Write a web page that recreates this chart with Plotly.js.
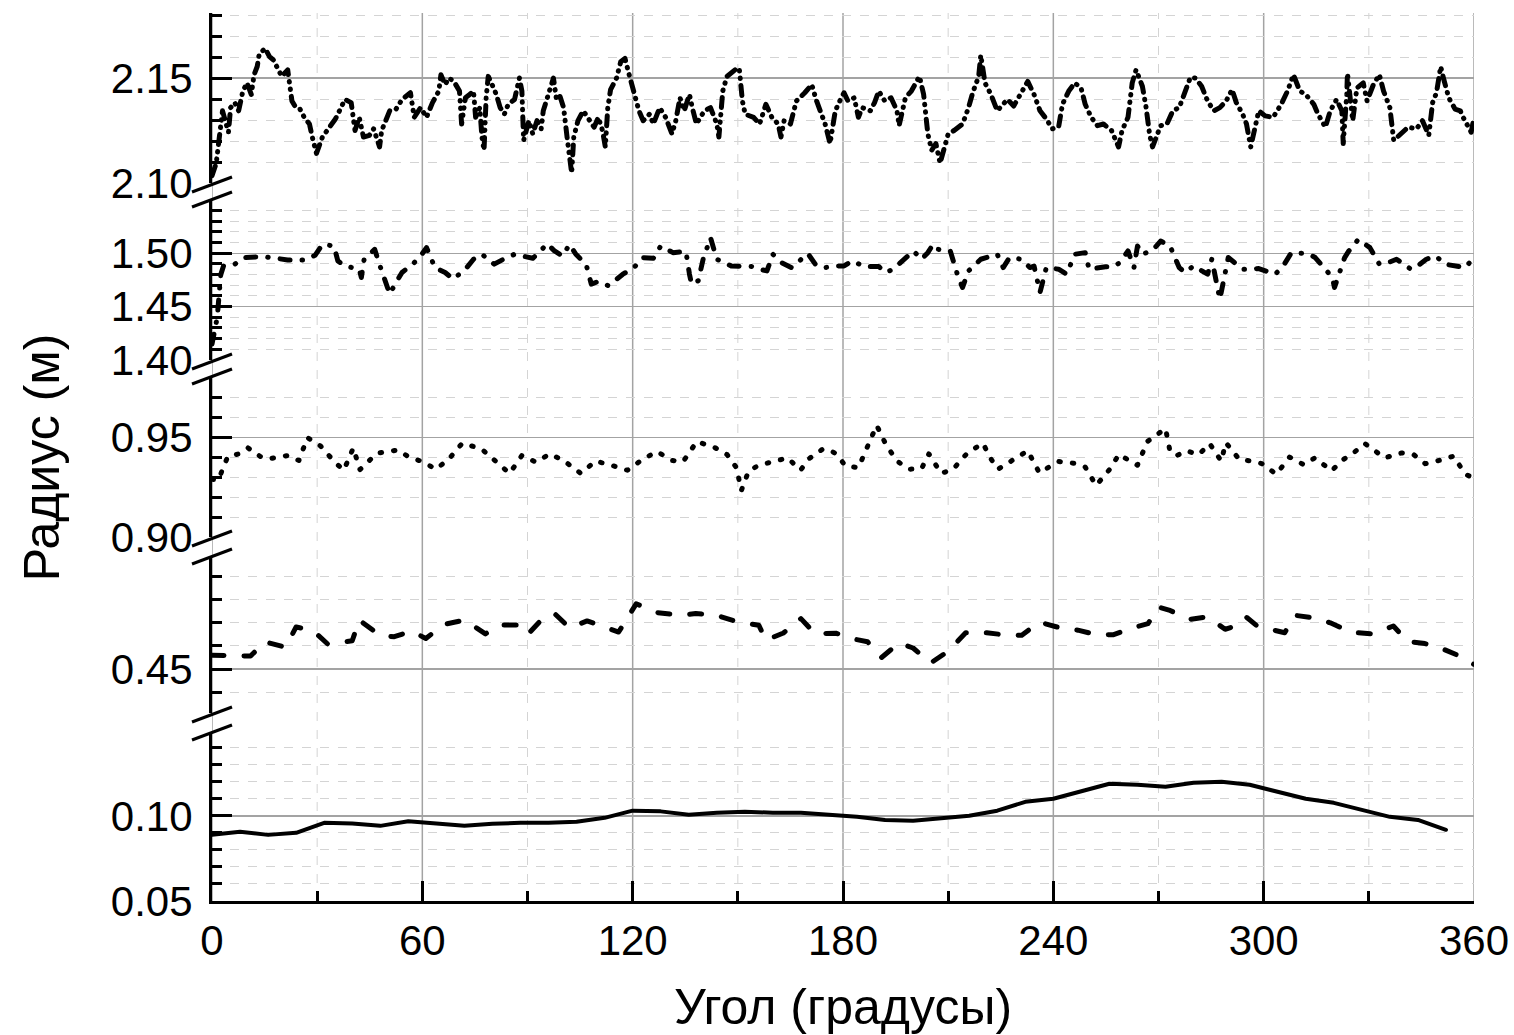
<!DOCTYPE html>
<html><head><meta charset="utf-8">
<script src="https://cdn.plot.ly/plotly-3.0.1.min.js"></script>
<style>
html,body{margin:0;padding:0;background:#fff;}
#chart{width:1514px;height:1035px;}
.scatterlayer .js-line{stroke-linecap:round;stroke-linejoin:round;}
</style></head><body><div id="chart"></div>
<script>
// ---------------- DATA ----------------
const xTickVals = [0, 60, 120, 180, 240, 300, 360];
const xMinorVals = [30, 90, 150, 210, 270, 330];

const s1Angle = [
 0, 1.2, 3.0, 4.1, 4.7, 5.3, 6.5, 7.6, 8.8, 10.0,
 11.2, 12.0, 12.9, 13.5, 15.2, 16.4, 17.5, 18.7, 19.9, 21.6,
 22.8, 23.9, 25.1, 26.3, 27.8, 28.6, 29.8, 31.5, 33.3, 35.2,
 36.8, 37.9, 39.7, 40.3, 40.8, 42.0, 43.2, 44.9, 46.1, 47.8,
 48.4, 50.7, 52.5, 54.2, 56.6, 57.7, 59.5, 61.2, 62.9, 64.7,
 65.3, 66.5, 67.6, 69.0, 70.6, 71.2, 72.3, 73.5, 74.6, 75.2,
 76.4, 77.0, 77.6, 78.2, 78.8, 79.9, 81.1, 82.2, 83.4, 84.5,
 86.3, 87.7, 88.4, 88.6, 88.9, 90.4, 91.5, 92.7, 93.9, 94.5,
 95.6, 97.4, 98.2, 99.1, 100.3, 100.8, 101.4, 102.0, 102.6, 103.2,
 104.4, 105.9, 107.3, 109.0, 110.2, 111.4, 112.2, 112.9, 113.7, 115.4,
 116.6, 117.8, 119.0, 119.9, 120.7, 121.8, 123.0, 124.8, 125.9, 127.7,
 129.4, 131.2, 132.3, 133.5, 134.7, 136.2, 137.0, 138.2, 139.3, 140.5,
 142.2, 144.0, 144.6, 145.7, 146.9, 149.2, 150.4, 151.3, 152.1, 154.5,
 156.2, 158.0, 159.7, 161.5, 162.3, 163.2, 165.0, 166.7, 169.1, 171.1,
 172.3, 173.7, 174.9, 176.3, 177.8, 179.5, 180.3, 181.4, 183.2, 184.4,
 185.5, 187.8, 189.0, 190.2, 191.9, 193.7, 195.4, 196.0, 197.8, 199.5,
 201.8, 203.0, 203.6, 204.2, 205.3, 206.5, 207.7, 208.8, 210.0, 211.7,
 214.1, 215.8, 217.0, 218.7, 219.3, 220.5, 222.2, 224.0, 225.2, 226.9,
 228.7, 230.5, 232.7, 234.5, 236.2, 238.0, 239.7, 241.5, 242.6, 244.4,
 246.1, 247.9, 249.1, 250.8, 252.6, 254.3, 256.6, 258.6, 259.6, 261.3,
 262.5, 263.6, 265.4, 266.4, 266.8, 267.5, 268.3, 269.5, 270.6, 272.4,
 274.1, 275.9, 277.6, 279.1, 280.5, 282.3, 284.0, 285.8, 287.5, 289.3,
 291.0, 292.2, 294.0, 295.1, 296.3, 297.4, 298.6, 300.4, 302.7, 305.0,
 306.8, 308.5, 310.3, 312.0, 314.3, 315.5, 317.6, 319.0, 320.8, 322.3,
 322.7, 323.7, 323.9, 325.4, 326.6, 328.4, 329.5, 331.3, 333.0, 334.2,
 336.0, 337.1, 338.9, 341.2, 343.6, 345.3, 347.1, 348.2, 349.3, 350.5,
 351.4, 352.8, 354.6, 356.1, 356.9, 359.2, 360.0
];
const s1Radius = [
 2.1035, 2.1094, 2.1344, 2.1281, 2.1242, 2.1359, 2.1383, 2.1344, 2.1438, 2.1477,
 2.1422, 2.1516, 2.1555, 2.1617, 2.1641, 2.1602, 2.1586, 2.1547, 2.1508, 2.1539,
 2.1391, 2.1359, 2.1352, 2.1313, 2.1281, 2.1219, 2.1141, 2.1219, 2.1258, 2.1305,
 2.1359, 2.1398, 2.1383, 2.1328, 2.1250, 2.1313, 2.1219, 2.1227, 2.1258, 2.1172,
 2.1250, 2.1344, 2.1352, 2.1398, 2.1430, 2.1313, 2.1359, 2.1313, 2.1383, 2.1438,
 2.1516, 2.1469, 2.1500, 2.1484, 2.1438, 2.1281, 2.1406, 2.1422, 2.1438, 2.1313,
 2.1359, 2.1219, 2.1156, 2.1406, 2.1508, 2.1469, 2.1422, 2.1359, 2.1328, 2.1375,
 2.1398, 2.1500, 2.1438, 2.1344, 2.1203, 2.1297, 2.1234, 2.1297, 2.1258, 2.1344,
 2.1406, 2.1500, 2.1406, 2.1422, 2.1359, 2.1266, 2.1203, 2.1125, 2.1047, 2.1219,
 2.1297, 2.1344, 2.1313, 2.1266, 2.1313, 2.1250, 2.1172, 2.1359, 2.1445, 2.1500,
 2.1578, 2.1594, 2.1516, 2.1453, 2.1422, 2.1344, 2.1297, 2.1328, 2.1281, 2.1359,
 2.1313, 2.1234, 2.1297, 2.1406, 2.1344, 2.1422, 2.1359, 2.1281, 2.1313, 2.1344,
 2.1359, 2.1281, 2.1219, 2.1438, 2.1508, 2.1539, 2.1547, 2.1391, 2.1328, 2.1313,
 2.1281, 2.1375, 2.1313, 2.1281, 2.1219, 2.1297, 2.1281, 2.1391, 2.1430, 2.1469,
 2.1398, 2.1328, 2.1281, 2.1188, 2.1344, 2.1406, 2.1430, 2.1391, 2.1406, 2.1313,
 2.1359, 2.1344, 2.1383, 2.1438, 2.1391, 2.1406, 2.1344, 2.1273, 2.1406, 2.1438,
 2.1508, 2.1422, 2.1313, 2.1234, 2.1156, 2.1188, 2.1094, 2.1156, 2.1234, 2.1250,
 2.1281, 2.1359, 2.1430, 2.1508, 2.1609, 2.1477, 2.1422, 2.1344, 2.1367, 2.1398,
 2.1367, 2.1422, 2.1484, 2.1422, 2.1344, 2.1305, 2.1258, 2.1266, 2.1375, 2.1438,
 2.1477, 2.1453, 2.1375, 2.1313, 2.1273, 2.1281, 2.1250, 2.1172, 2.1250, 2.1313,
 2.1477, 2.1539, 2.1461, 2.1367, 2.1313, 2.1227, 2.1172, 2.1234, 2.1273, 2.1281,
 2.1344, 2.1359, 2.1430, 2.1503, 2.1500, 2.1461, 2.1391, 2.1344, 2.1359, 2.1391,
 2.1445, 2.1383, 2.1328, 2.1281, 2.1172, 2.1250, 2.1344, 2.1320, 2.1313, 2.1375,
 2.1438, 2.1516, 2.1438, 2.1422, 2.1375, 2.1328, 2.1266, 2.1344, 2.1398, 2.1344,
 2.1188, 2.1422, 2.1523, 2.1297, 2.1453, 2.1477, 2.1391, 2.1469, 2.1516, 2.1438,
 2.1359, 2.1203, 2.1234, 2.1266, 2.1258, 2.1297, 2.1227, 2.1383, 2.1430, 2.1555,
 2.1492, 2.1406, 2.1352, 2.1344, 2.1313, 2.1242, 2.1313
];

const s2Angle = [
 0, 1.5, 2.5, 3.3, 6.5, 9.4, 14.6, 18.1, 21.6, 26.6,
 29.4, 31.5, 34.8, 35.9, 37.9, 42.0, 42.6, 43.4, 46.4, 47.6,
 49.6, 50.7, 52.5, 54.2, 57.7, 59.5, 61.2, 63.6, 66.5, 68.8,
 72.3, 74.6, 77.0, 80.5, 83.1, 86.3, 91.5, 93.3, 95.6, 97.7,
 100.0, 102.0, 103.8, 106.7, 108.2, 110.2, 113.1, 117.2, 120.4, 122.8,
 125.9, 128.0, 131.5, 135.2, 136.2, 136.8, 138.7, 140.1, 142.2, 144.0,
 148.1, 151.0, 153.9, 156.2, 158.3, 160.0, 162.4, 165.3, 170.0, 172.3,
 174.9, 178.0, 180.3, 182.6, 186.1, 190.2, 192.2, 194.3, 197.8, 200.1,
 202.4, 204.2, 205.7, 207.1, 210.6, 211.7, 212.9, 214.1, 215.8, 219.3,
 221.1, 224.0, 225.7, 227.5, 231.0, 233.3, 234.5, 236.2, 238.0, 241.5,
 243.8, 246.1, 249.1, 250.2, 254.9, 257.0, 259.0, 261.3, 263.0, 264.0,
 265.4, 268.3, 270.6, 273.3, 275.9, 277.6, 280.0, 284.0, 285.2, 287.5,
 289.9, 294.0, 295.7, 298.6, 303.3, 305.6, 307.9, 312.6, 314.7, 316.7,
 319.6, 320.2, 323.1, 324.3, 327.0, 330.3, 333.0, 335.6, 337.9, 342.0,
 343.3, 346.4, 349.1, 351.7, 357.5, 360.0
];
const s2Radius = [
 1.4150, 1.4400, 1.4800, 1.4882, 1.4898, 1.4960, 1.4969, 1.4953, 1.4938, 1.4938,
 1.4981, 1.5084, 1.5068, 1.4929, 1.4882, 1.4851, 1.4773, 1.4944, 1.5037, 1.4913,
 1.4727, 1.4618, 1.4727, 1.4820, 1.4913, 1.4975, 1.5053, 1.4866, 1.4820, 1.4758,
 1.4851, 1.4944, 1.4991, 1.4898, 1.4944, 1.4991, 1.4953, 1.5006, 1.5090, 1.5022,
 1.4975, 1.5084, 1.4991, 1.4898, 1.4711, 1.4736, 1.4696, 1.4804, 1.4866, 1.4960,
 1.4953, 1.5068, 1.5006, 1.5016, 1.4804, 1.4711, 1.4742, 1.4944, 1.5146, 1.4944,
 1.4882, 1.4876, 1.4876, 1.4851, 1.4835, 1.4991, 1.4913, 1.4866, 1.4997, 1.4888,
 1.4866, 1.4880, 1.4882, 1.4929, 1.4876, 1.4876, 1.4820, 1.4851, 1.4960, 1.5022,
 1.4944, 1.5006, 1.5084, 1.5037, 1.5022, 1.4898, 1.4773, 1.4680, 1.4835, 1.4944,
 1.4960, 1.4991, 1.4866, 1.4960, 1.4944, 1.4866, 1.4880, 1.4634, 1.4866, 1.4851,
 1.4804, 1.4991, 1.5006, 1.4851, 1.4873, 1.4873, 1.4913, 1.5022, 1.4866, 1.5068,
 1.4991, 1.5028, 1.5115, 1.5068, 1.4866, 1.4820, 1.4882, 1.4804, 1.4944, 1.4571,
 1.4960, 1.4851, 1.4851, 1.4857, 1.4804, 1.4882, 1.5006, 1.4997, 1.4960, 1.4882,
 1.4773, 1.4680, 1.4960, 1.5022, 1.5130, 1.5053, 1.4898, 1.4913, 1.4944, 1.4851,
 1.4866, 1.4944, 1.4975, 1.4898, 1.4866, 1.4960
];

const s3Angle = [
 0, 1.8, 4.5, 7.6, 10.3, 11.9, 13.8, 16.0, 21.6, 24.8,
 27.2, 30.9, 35.0, 37.6, 40.3, 42.2, 47.0, 53.1, 56.2, 60.4,
 63.8, 67.4, 71.4, 76.9, 80.2, 84.9, 88.4, 92.4, 96.4, 100.3,
 105.2, 109.4, 113.9, 118.5, 122.7, 126.9, 131.3, 134.4, 138.3, 143.3,
 146.9, 149.6, 151.0, 153.1, 156.0, 159.1, 162.1, 164.2, 167.9, 170.2,
 174.1, 175.8, 178.1, 180.7, 184.4, 189.6, 192.2, 195.4, 198.9, 202.4,
 204.5, 208.0, 211.4, 215.5, 219.9, 222.2, 224.2, 228.9, 232.7, 236.0,
 241.5, 246.7, 249.1, 252.2, 256.1, 258.7, 264.0, 266.8, 269.6, 272.0,
 273.3, 275.3, 277.9, 281.5, 284.6, 286.4, 287.9, 289.2, 293.1, 296.6,
 299.5, 303.6, 307.4, 311.4, 314.6, 319.4, 322.3, 325.8, 328.9, 334.5,
 339.4, 342.9, 346.1, 350.5, 354.2, 357.5, 359.5
];
const s3Radius = [
 0.9290, 0.9287, 0.9405, 0.9418, 0.9448, 0.9431, 0.9405, 0.9393, 0.9410, 0.9385,
 0.9500, 0.9459, 0.9377, 0.9336, 0.9448, 0.9339, 0.9421, 0.9438, 0.9402, 0.9377,
 0.9341, 0.9389, 0.9472, 0.9443, 0.9389, 0.9320, 0.9410, 0.9377, 0.9418, 0.9385,
 0.9320, 0.9382, 0.9361, 0.9336, 0.9389, 0.9430, 0.9385, 0.9380, 0.9480, 0.9451,
 0.9415, 0.9349, 0.9234, 0.9333, 0.9361, 0.9377, 0.9389, 0.9398, 0.9336, 0.9393,
 0.9441, 0.9441, 0.9418, 0.9358, 0.9349, 0.9562, 0.9467, 0.9382, 0.9341, 0.9344,
 0.9418, 0.9320, 0.9341, 0.9423, 0.9472, 0.9393, 0.9341, 0.9390, 0.9434, 0.9323,
 0.9380, 0.9369, 0.9352, 0.9259, 0.9341, 0.9415, 0.9361, 0.9480, 0.9516, 0.9546,
 0.9430, 0.9410, 0.9434, 0.9415, 0.9470, 0.9421, 0.9382, 0.9475, 0.9389, 0.9382,
 0.9369, 0.9316, 0.9402, 0.9364, 0.9398, 0.9333, 0.9385, 0.9426, 0.9470, 0.9398,
 0.9423, 0.9413, 0.9369, 0.9387, 0.9407, 0.9316, 0.9300
];

const s4Angle = [
 0, 11, 15, 21, 24, 29, 33, 40, 42, 48,
 52, 57, 61, 66, 72, 78, 82, 87, 90, 95,
 98, 102, 107, 112, 116, 121, 127, 134, 138, 144,
 149, 156, 158, 163, 168, 172, 178, 183, 187, 191,
 196, 200, 205, 210, 215, 221, 227, 231, 236, 242,
 247, 252, 257, 263, 267, 270, 273, 279, 284, 289,
 292, 295, 298, 303, 306, 309, 314, 319, 325, 331,
 337, 341, 346, 350, 355, 360
];
const s4Radius = [
 0.4560, 0.4556, 0.4618, 0.4594, 0.4682, 0.4664, 0.4608, 0.4622, 0.4712, 0.4644,
 0.4640, 0.4664, 0.4632, 0.4692, 0.4712, 0.4652, 0.4690, 0.4690, 0.4648, 0.4730,
 0.4736, 0.4678, 0.4708, 0.4682, 0.4660, 0.4782, 0.4744, 0.4733, 0.4740, 0.4732,
 0.4708, 0.4689, 0.4625, 0.4656, 0.4718, 0.4653, 0.4655, 0.4630, 0.4618, 0.4550,
 0.4613, 0.4591, 0.4526, 0.4577, 0.4657, 0.4657, 0.4646, 0.4646, 0.4703, 0.4678,
 0.4668, 0.4650, 0.4648, 0.4680, 0.4696, 0.4768, 0.4755, 0.4715, 0.4726, 0.4672,
 0.4686, 0.4725, 0.4688, 0.4668, 0.4657, 0.4732, 0.4722, 0.4700, 0.4659, 0.4652,
 0.4686, 0.4620, 0.4610, 0.4594, 0.4562, 0.4520
];

const s5Angle = [
 0, 8, 16, 24, 32, 40, 48, 56, 64, 72,
 80, 88, 96, 104, 112, 120, 128, 136, 144, 152,
 160, 168, 176, 184, 192, 200, 208, 216, 224, 232,
 240, 248, 256, 264, 272, 280, 288, 296, 304, 312,
 320, 328, 336, 344, 352
];
const s5Radius = [
 0.0888, 0.0906, 0.0888, 0.0900, 0.0959, 0.0955, 0.0941, 0.0968, 0.0955, 0.0941,
 0.0953, 0.0959, 0.0959, 0.0965, 0.0988, 0.1030, 0.1026, 0.1006, 0.1018, 0.1024,
 0.1018, 0.1018, 0.1006, 0.0994, 0.0976, 0.0971, 0.0985, 0.1000, 0.1030, 0.1082,
 0.1100, 0.1141, 0.1188, 0.1182, 0.1170, 0.1194, 0.1200, 0.1182, 0.1140, 0.1100,
 0.1076, 0.1035, 0.0994, 0.0976, 0.0918
];

// y-axis tick labels per panel (top to bottom)
const yTickVals = [[2.10, 2.15], [1.40, 1.45, 1.50], [0.90, 0.95], [0.45], [0.05, 0.10]];
const yTickText = [['2.10', '2.15'], ['1.40', '1.45', '1.50'], ['0.90', '0.95'], ['0.45'], ['0.05', '0.10']];
const yRanges = [[2.10, 2.181], [1.40, 1.549], [0.90, 0.98], [0.431, 0.498], [0.05, 0.148]];

// ---------------- LAYOUT ----------------
const W = 1514, H = 1035, ML = 212, MR = 40, MT = 13, MB = 134;
const plotW = W - ML - MR, plotH = H - MT - MB;
const pxToPaperY = py => (H - MB - py) / plotH;
const pxToPaperX = px => (px - ML) / plotW;
// panel pixel extents (top, bottom), top to bottom
const panelPx = [[13, 183], [201, 360], [378, 537], [558, 713], [734, 901]];

const FONT = 'Arial, "Liberation Sans", sans-serif';
const TICK_SIZE = 42, TITLE_SIZE = 50;
const lineStyles = [
  {color: 'black', width: 5, dash: '10px,7px,0.5px,7px,0.5px,7px'},
  {color: 'black', width: 5, dash: '10px,12px,0.5px,12px'},
  {color: 'black', width: 5, dash: '1.5px,12px'},
  {color: 'black', width: 5, dash: '12px,20px'},
  {color: 'black', width: 4, dash: 'solid'}
];
const seriesX = [s1Angle, s2Angle, s3Angle, s4Angle, s5Angle];
const seriesY = [s1Radius, s2Radius, s3Radius, s4Radius, s5Radius];
const axNames = ['y', 'y2', 'y3', 'y4', 'y5'];

const traces = seriesX.map((xs, i) => ({
  type: 'scatter', mode: 'lines', x: xs, y: seriesY[i],
  xaxis: 'x', yaxis: axNames[i], line: lineStyles[i], showlegend: false, hoverinfo: 'x+y'
}));

const layout = {
  width: W, height: H,
  margin: {l: ML, r: MR, t: MT, b: MB},
  paper_bgcolor: 'white', plot_bgcolor: 'rgba(0,0,0,0)',
  font: {family: FONT, color: 'black', size: TICK_SIZE},
  showlegend: false,
  xaxis: {
    domain: [0, 1], range: [0, 360], anchor: 'y5',
    tickmode: 'array', tickvals: xTickVals,
    ticks: 'inside', ticklen: 20, tickwidth: 3, tickcolor: 'black',
    showline: true, linecolor: 'black', linewidth: 3,
    showgrid: false, zeroline: false,
    minor: {tickmode: 'array', tickvals: xMinorVals, ticks: 'inside', ticklen: 10, tickwidth: 3, tickcolor: 'black', showgrid: false},
    tickfont: {family: FONT, size: TICK_SIZE, color: 'black'},
    ticklabelstandoff: 1,
    title: {text: 'Угол (градусы)', font: {family: FONT, size: TITLE_SIZE, color: 'black'}, standoff: 32}
  },
  shapes: []
};

axNames.forEach((name, i) => {
  const key = i === 0 ? 'yaxis' : 'yaxis' + (i + 1);
  const [top, bot] = panelPx[i];
  layout[key] = {
    domain: [pxToPaperY(bot), pxToPaperY(top)],
    range: yRanges[i], anchor: 'x',
    tickmode: 'array', tickvals: yTickVals[i], ticktext: yTickText[i],
    ticks: 'inside', ticklen: 20, tickwidth: 3, tickcolor: 'black',
    showline: true, linecolor: 'black', linewidth: 3,
    showgrid: true, gridcolor: '#a3a3a3', gridwidth: 1.5, zeroline: false,
    minor: {dtick: 0.01, tick0: 0, ticks: 'inside', ticklen: 10, tickwidth: 3, tickcolor: 'black',
            showgrid: true, gridcolor: '#d4d4d4', griddash: 'dash', gridwidth: 1},
    tickfont: {family: FONT, size: TICK_SIZE, color: 'black'},
    ticklabelstandoff: 8
  };
});
layout.yaxis3.title = {text: 'Радиус (м)', font: {family: FONT, size: TITLE_SIZE, color: 'black'}, standoff: 36};

// vertical grid lines spanning all panels
xTickVals.forEach(v => layout.shapes.push({type: 'line', xref: 'x', yref: 'paper', x0: v, x1: v, y0: 0, y1: 1,
  layer: 'below', line: {color: '#a3a3a3', width: 1.5}}));
xMinorVals.forEach(v => layout.shapes.push({type: 'line', xref: 'x', yref: 'paper', x0: v, x1: v, y0: 0, y1: 1,
  layer: 'below', line: {color: '#d4d4d4', width: 1, dash: 'dash'}}));

// axis break marks
for (let i = 0; i < panelPx.length - 1; i++) {
  const upperBottom = panelPx[i][1], lowerTop = panelPx[i + 1][0];
  [upperBottom + 1.5, lowerTop - 1.5].forEach(c => {
    layout.shapes.push({type: 'line', xref: 'paper', yref: 'paper',
      x0: pxToPaperX(ML - 20), y0: pxToPaperY(c + 7.5),
      x1: pxToPaperX(ML + 20), y1: pxToPaperY(c - 7.5),
      layer: 'above', line: {color: 'black', width: 3}});
  });
}

Plotly.newPlot('chart', traces, layout, {displayModeBar: false, staticPlot: true});
</script>
</body></html>
